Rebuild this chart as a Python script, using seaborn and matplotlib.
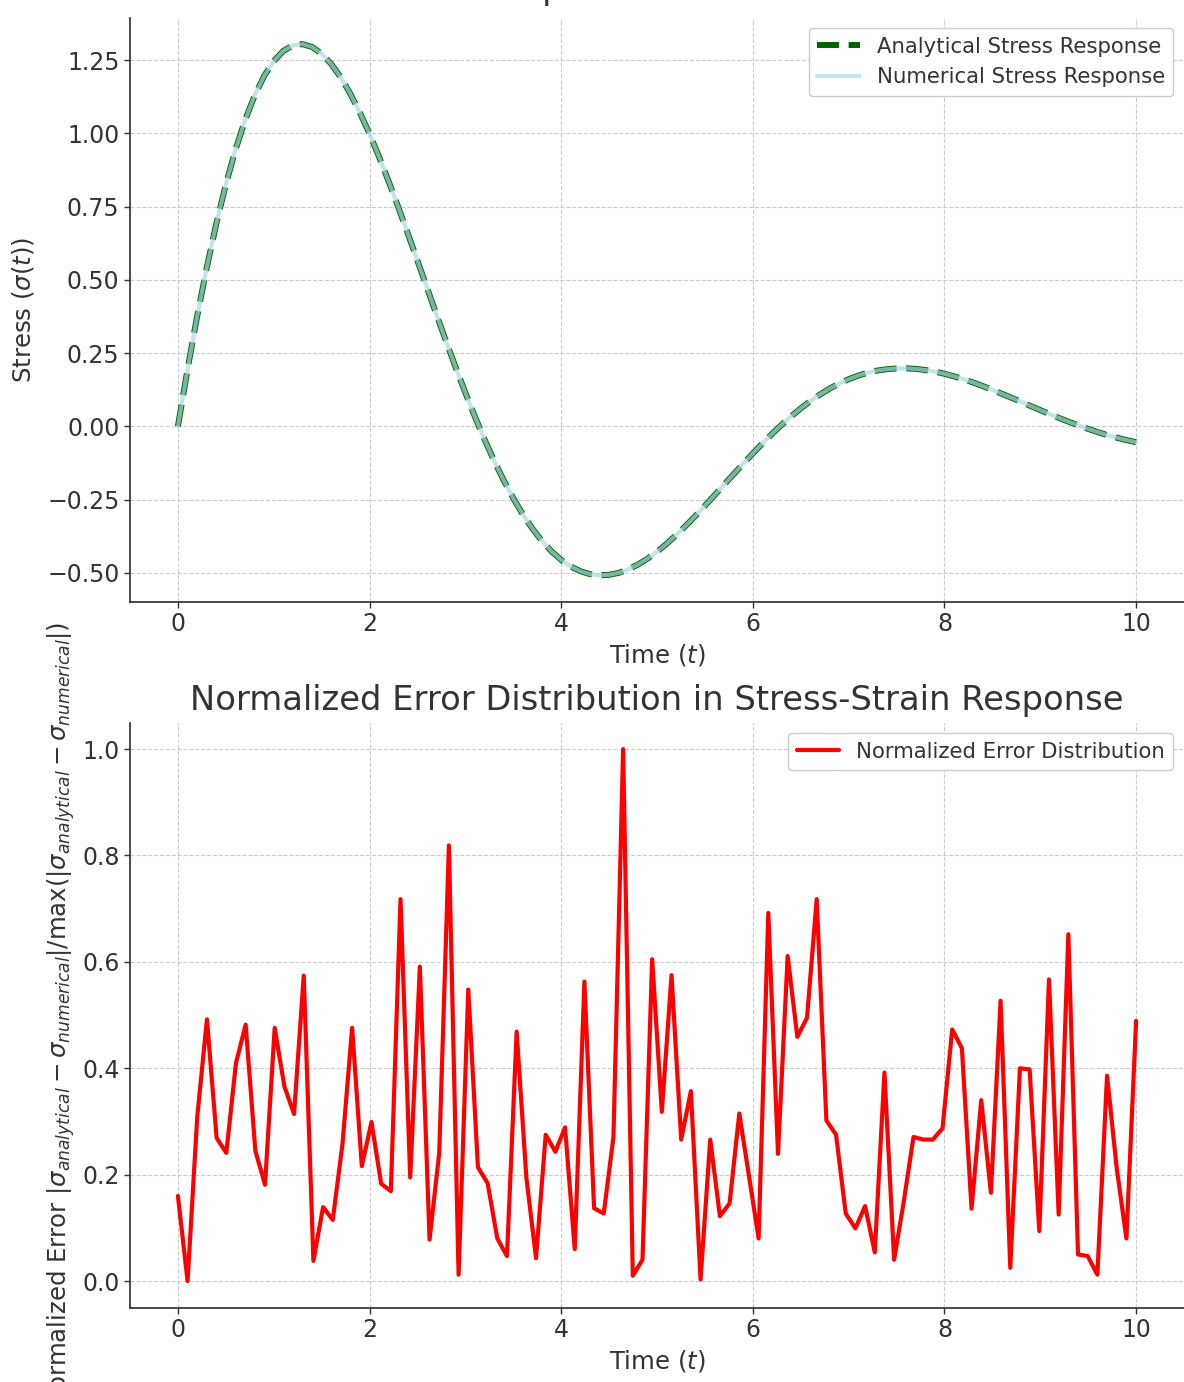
import matplotlib
matplotlib.use("Agg")
import matplotlib.pyplot as plt
import numpy as np
import pandas as pd
import seaborn as sns

# Stress response of the viscoelastic material, sampled every 0.1 time units
stress_time = np.linspace(0, 10, 101)
analytical_stress = [
    0.0000, 0.1938, 0.3742, 0.5402, 0.6908, 0.8253, 0.9433, 1.0444, 1.1286, 1.1960,
    1.2468, 1.2814, 1.3005, 1.3048, 1.2950, 1.2721, 1.2370, 1.1910, 1.1350, 1.0703,
    0.9981, 0.9195, 0.8357, 0.7481, 0.6576, 0.5654, 0.4726, 0.3802, 0.2892, 0.2005,
    0.1147, 0.0328, -0.0447, -0.1172, -0.1843, -0.2455, -0.3006, -0.3492, -0.3914, -0.4269,
    -0.4559, -0.4784, -0.4944, -0.5044, -0.5084, -0.5068, -0.5000, -0.4882, -0.4720, -0.4518,
    -0.4279, -0.4009, -0.3713, -0.3394, -0.3059, -0.2710, -0.2353, -0.1992, -0.1631, -0.1274,
    -0.0924, -0.0584, -0.0259, 0.0051, 0.0342, 0.0612, 0.0860, 0.1085, 0.1285, 0.1460,
    0.1609, 0.1733, 0.1831, 0.1905, 0.1952, 0.1977, 0.1980, 0.1962, 0.1924, 0.1868,
    0.1795, 0.1708, 0.1607, 0.1497, 0.1375, 0.1247, 0.1113, 0.0975, 0.0835, 0.0694,
    0.0554, 0.0416, 0.0282, 0.0153, 0.0030, -0.0087, -0.0196, -0.0296, -0.0388, -0.0469,
    -0.0542,
]
numerical_stress = list(analytical_stress)

# Normalized absolute error between the two solutions (100 samples on [0, 10])
error_time = np.linspace(0, 10, 100)
normalized_error = [
    0.160, 0.000, 0.309, 0.492, 0.269, 0.241, 0.410, 0.482, 0.245, 0.181,
    0.476, 0.366, 0.314, 0.574, 0.038, 0.139, 0.115, 0.257, 0.476, 0.216,
    0.299, 0.183, 0.169, 0.718, 0.195, 0.591, 0.078, 0.241, 0.819, 0.012,
    0.548, 0.214, 0.184, 0.080, 0.047, 0.469, 0.195, 0.043, 0.275, 0.243,
    0.289, 0.060, 0.563, 0.137, 0.127, 0.271, 1.000, 0.010, 0.040, 0.605,
    0.318, 0.575, 0.266, 0.357, 0.003, 0.266, 0.122, 0.146, 0.315, 0.198,
    0.080, 0.692, 0.239, 0.611, 0.459, 0.495, 0.718, 0.302, 0.275, 0.127,
    0.099, 0.141, 0.054, 0.392, 0.040, 0.150, 0.271, 0.266, 0.266, 0.287,
    0.473, 0.438, 0.136, 0.340, 0.166, 0.527, 0.025, 0.400, 0.398, 0.094,
    0.567, 0.125, 0.652, 0.050, 0.047, 0.012, 0.386, 0.212, 0.080, 0.489,
]

stress_df = pd.DataFrame({
    "t": stress_time,
    "analytical": analytical_stress,
    "numerical": numerical_stress,
})
error_df = pd.DataFrame({"t": error_time, "error": normalized_error})

sns.set_theme(style="whitegrid")
plt.rcParams.update({
    "font.family": ["DejaVu Sans"],
    "mathtext.fontset": "dejavusans",
    "text.color": "#333333",
    "axes.labelcolor": "#333333",
    "axes.edgecolor": "#333333",
    "axes.linewidth": 1.25,
    "xtick.color": "#333333",
    "ytick.color": "#333333",
    "xtick.bottom": True,
    "ytick.left": True,
    "xtick.direction": "out",
    "ytick.direction": "out",
    "xtick.major.size": 4,
    "ytick.major.size": 4,
    "xtick.major.width": 1.0,
    "ytick.major.width": 1.0,
    "xtick.labelsize": 17,
    "ytick.labelsize": 17,
    "axes.labelsize": 17.6,
    "axes.titlesize": 24.3,
    "legend.fontsize": 15.3,
    "grid.color": "#cccccc",
    "grid.linestyle": "--",
    "grid.linewidth": 0.8,
})

fig = plt.figure(figsize=(11.84, 13.82), dpi=100)
ax1 = fig.add_axes([0.1098, 0.5645, 0.8902, 0.4228])
ax2 = fig.add_axes([0.1098, 0.0538, 0.8902, 0.4234])

# Top panel: analytical (dashed) under numerical (light, translucent)
sns.lineplot(data=stress_df, x="t", y="analytical", ax=ax1, color="darkgreen",
             linestyle="--", linewidth=4.3, label="Analytical Stress Response")
sns.lineplot(data=stress_df, x="t", y="numerical", ax=ax1, color="lightblue",
             alpha=0.7, linewidth=3, label="Numerical Stress Response")
ax1.set_title("Stress-Strain Response in Viscoelastic Materials", color="#333333", pad=13)
ax1.set_xlabel("Time ($t$)")
ax1.set_ylabel(r"Stress ($\sigma(t)$)", labelpad=8)
ax1.set_xticks([0, 2, 4, 6, 8, 10])
ax1.set_yticks([-0.5, -0.25, 0.0, 0.25, 0.5, 0.75, 1.0, 1.25])

# Bottom panel: normalized error
sns.lineplot(data=error_df, x="t", y="error", ax=ax2, color="red",
             linewidth=3, label="Normalized Error Distribution")
ax2.set_title("Normalized Error Distribution in Stress-Strain Response", color="#333333", pad=9.0)
ax2.set_xlabel("Time ($t$)")
ax2.set_ylabel(r"Normalized Error $|\sigma_{analytical} - \sigma_{numerical}|"
               r"/\max(|\sigma_{analytical} - \sigma_{numerical}|)$")
ax2.set_xticks([0, 2, 4, 6, 8, 10])
ax2.set_yticks([0.0, 0.2, 0.4, 0.6, 0.8, 1.0])

for ax in (ax1, ax2):
    ax.margins(x=0.05, y=0.05)
    ax.grid(True, which="major", axis="both", linestyle="--", color="#cccccc", linewidth=0.8)
    for side in ("top", "right"):
        ax.spines[side].set_visible(False)
    for side in ("left", "bottom"):
        ax.spines[side].set_visible(True)
        ax.spines[side].set_color("#333333")
    leg = ax.legend(loc="upper right", frameon=True, fancybox=True, framealpha=1.0)
    leg.get_frame().set_edgecolor("#cccccc")
    leg.get_frame().set_linewidth(1.0)
    for txt in leg.get_texts():
        txt.set_color("#333333")

fig.savefig("out.png", dpi=100)
